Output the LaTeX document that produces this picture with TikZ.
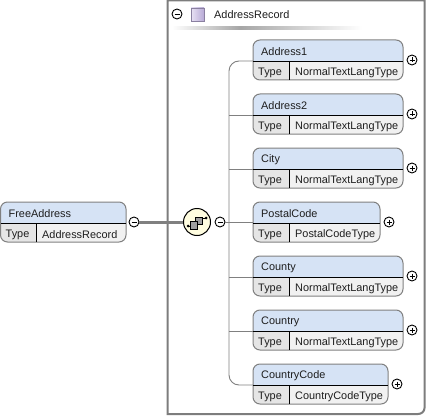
\documentclass[tikz,border=0pt]{standalone}
\usepackage{fontspec}
\setmainfont{Liberation Sans}
\usetikzlibrary{shadings}
\definecolor{hdr}{RGB}{214,227,245}
\definecolor{lbl}{RGB}{229,229,229}
\definecolor{val}{RGB}{241,241,241}
\definecolor{edge}{RGB}{128,128,128}
\definecolor{frm}{RGB}{125,125,125}
\definecolor{txt}{RGB}{30,30,30}
\definecolor{iconA}{RGB}{232,226,244}
\definecolor{iconB}{RGB}{184,170,214}
\tikzset{
  x=1pt,y=-1pt,
  boxedge/.style={draw=edge,line width=1pt,rounded corners=7pt},
  divline/.style={draw=black,line width=.8pt},
  boxtext/.style={inner sep=0pt,anchor=west,text=txt,font=\fontsize{10.9}{12}\selectfont},
  conn/.style={draw=edge,line width=.9pt},
  togglec/.style={circle,draw=black,fill=white,line width=.9pt,minimum size=10pt,inner sep=0pt},
}
% name, left, top, right, divider, title, type
\newcommand{\elembox}[7]{%
  \begin{scope}
    \clip[rounded corners=7pt] (#2,#3) rectangle (#4,#3+40);
    \fill[hdr] (#2,#3) rectangle (#4,#3+21);
    \fill[lbl] (#2,#3+21) rectangle (#5,#3+40);
    \fill[val] (#5,#3+21) rectangle (#4,#3+40);
  \end{scope}
  \path[boxedge] (#2,#3) rectangle (#4,#3+40);
  \path[divline] (#2,#3+21) -- (#4,#3+21);
  \path[divline] (#5,#3+21) -- (#5,#3+40);
  \coordinate (#1) at (#2,#3+21);
  \node[boxtext] at (#2+8,#3+11.5) {#6};
  \node[boxtext] at (#2+5,#3+32.5) {Type};
  \node[boxtext] at (#5+6,#3+32.5) {#7};
}
\newcommand{\toggle}[4]{% name,x,y,sign
  \node[togglec] (#1) at (#2,#3) {};
  \draw[line width=.8pt] (#2-2.5,#3) -- (#2+2.5,#3);
  \ifnum#4=1 \draw[line width=.8pt] (#2,#3-2.5) -- (#2,#3+2.5);\fi
}
\begin{document}
\begin{tikzpicture}
\useasboundingbox (0,0) rectangle (428,417);
\fill[white] (0,0) rectangle (428,417);
% frame
\draw[frm,line width=2pt,line join=miter] (167.5,414) -- (167.5,0.5) -- (424.5,0.5) -- (424.5,408) .. controls (424.5,411.5) and (421.5,414) .. (418,414) -- cycle;
% header
\shade[left color=white,right color=gray!70] (172,27) rectangle (240,29.5);
\shade[left color=gray!70,right color=white] (240,27) rectangle (362,29.5);
\node[boxtext] (rec) at (214,15) {AddressRecord};
\path[left color=iconA,right color=iconB] (191,8) rectangle (204,21);
\draw[iconB!75!black,line width=.7pt] (191,8) rectangle (204,21);
\toggle{recT}{177}{14}{0}
% boxes
\elembox{a1}{253}{40}{403}{289}{Address1}{NormalTextLangType}
\elembox{a2}{253}{94}{403}{289}{Address2}{NormalTextLangType}
\elembox{ci}{253}{148}{403}{289}{City}{NormalTextLangType}
\elembox{pc}{253}{202}{380}{289}{PostalCode}{PostalCodeType}
\elembox{co}{253}{256}{403}{289}{County}{NormalTextLangType}
\elembox{cn}{253}{310}{403}{289}{Country}{NormalTextLangType}
\elembox{cc}{253}{364}{388}{289}{CountryCode}{CountryCodeType}
\elembox{fa}{0.5}{202}{126}{36}{FreeAddress}{AddressRecord}
% toggles
\toggle{t1}{412}{60}{1}
\toggle{t2}{412}{114}{1}
\toggle{t3}{412}{168}{1}
\toggle{t4}{389}{222}{1}
\toggle{t5}{412}{276}{1}
\toggle{t6}{412}{330}{1}
\toggle{t7}{397}{384}{1}
\toggle{tf}{134}{222}{0}
\toggle{tc}{220}{222}{0}
% compositor
\draw[conn,line width=3pt] (tf) -- (197,222);
\node[circle,draw=black,fill=yellow!12,line width=1pt,minimum size=27pt,inner sep=0pt] (comp) at (197,222) {};
\draw[line width=1pt] (188,226) -- (192,226);
\draw[line width=1pt] (201,218) -- (206,218);
\fill[black] (188,226) circle (1.5);
\fill[black] (206,218) circle (1.5);
\draw[black,fill=gray!75,line width=.6pt] (195,217) rectangle (202,224);
\draw[black,fill=gray!75,line width=.6pt] (190.5,221) rectangle (197.5,229);
% connectors
\draw[conn] (tc) -- (pc |- tc);
\coordinate (sp1) at (229,61);
\coordinate (sp7) at (229,385);
\draw[conn,rounded corners=10pt] (a1) -- (sp1) -- (sp7) -- (cc);
\draw[conn] (a2) -- (229,115);
\draw[conn] (ci) -- (229,169);
\draw[conn] (co) -- (229,277);
\draw[conn] (cn) -- (229,331);
\end{tikzpicture}
\end{document}
